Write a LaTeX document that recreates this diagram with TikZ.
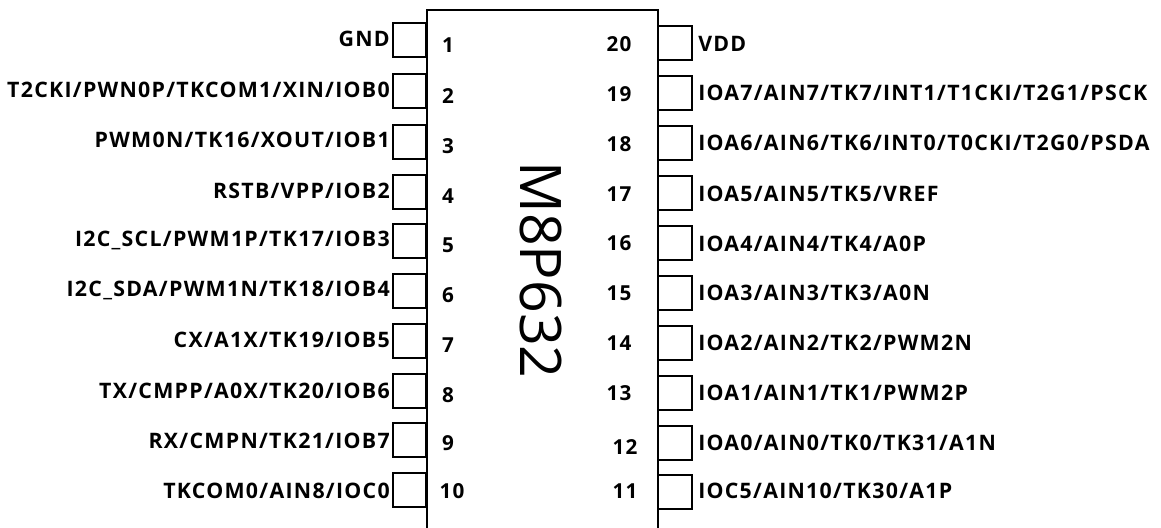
\documentclass[tikz,border=0pt]{standalone}
\usepackage{fontspec}
\setmainfont{Open Sans}
\newfontfamily\pinfont[LetterSpace=6]{Open Sans}

\tikzset{
  pinpad/.style={draw, line width=1.4pt, minimum width=25pt, minimum height=25pt, inner sep=0pt},
  pinname/.style={font=\pinfont\bfseries\fontsize{16}{18}\selectfont, inner sep=0pt},
  pinnum/.style={font=\pinfont\bfseries\fontsize{15.5}{18}\selectfont, inner sep=0pt},
}

\begin{document}
\begin{tikzpicture}[x=0.75pt, y=-0.75pt]
\useasboundingbox (0,0) rectangle (1161,528);
% Chip
\coordinate (chipbl) at (427,528);
\coordinate (chiptl) at (427,10);
\coordinate (chiptr) at (658,10);
\coordinate (chipbr) at (658,528);
\draw[line width=1.4pt] (chipbl) -- (chiptl) -- (chiptr) -- (chipbr);
\draw (541,270) node[rotate=-90, font=\fontsize{43}{45}\selectfont, inner sep=0pt] (chipname) {M8P632};
% Left pads
\draw (409.5,40) node[pinpad] (pad1) {};
\draw (409.5,91) node[pinpad] (pad2) {};
\draw (409.5,142) node[pinpad] (pad3) {};
\draw (409.5,192) node[pinpad] (pad4) {};
\draw (409.5,241) node[pinpad] (pad5) {};
\draw (409.5,291) node[pinpad] (pad6) {};
\draw (409.5,341) node[pinpad] (pad7) {};
\draw (409.5,391) node[pinpad] (pad8) {};
\draw (409.5,440) node[pinpad] (pad9) {};
\draw (409.5,490) node[pinpad] (pad10) {};
% Right pads
\draw (675,43) node[pinpad] (pad20) {};
\draw (675,93) node[pinpad] (pad19) {};
\draw (675,143) node[pinpad] (pad18) {};
\draw (675,193) node[pinpad] (pad17) {};
\draw (675,243) node[pinpad] (pad16) {};
\draw (675,293) node[pinpad] (pad15) {};
\draw (675,343) node[pinpad] (pad14) {};
\draw (675,393) node[pinpad] (pad13) {};
\draw (675,443) node[pinpad] (pad12) {};
\draw (675,492) node[pinpad] (pad11) {};
% Left numbers
\draw (448,45) node[pinnum] (num1) {1};
\draw (448,96) node[pinnum] (num2) {2};
\draw (448,146) node[pinnum] (num3) {3};
\draw (448,196) node[pinnum] (num4) {4};
\draw (448,245) node[pinnum] (num5) {5};
\draw (448,295) node[pinnum] (num6) {6};
\draw (448,345) node[pinnum] (num7) {7};
\draw (448,395) node[pinnum] (num8) {8};
\draw (448,443) node[pinnum] (num9) {9};
\draw (452,491) node[pinnum] (num10) {10};
% Right numbers
\draw (619,44) node[pinnum] (num20) {20};
\draw (619,94) node[pinnum] (num19) {19};
\draw (619,144) node[pinnum] (num18) {18};
\draw (619,194) node[pinnum] (num17) {17};
\draw (619,243) node[pinnum] (num16) {16};
\draw (619,293) node[pinnum] (num15) {15};
\draw (619,343) node[pinnum] (num14) {14};
\draw (619,393) node[pinnum] (num13) {13};
\draw (625,447) node[pinnum] (num12) {12};
\draw (625,491) node[pinnum] (num11) {11};
% Left names
\draw (390,39) node[pinname, anchor=east] (name1) {GND};
\draw (390,90) node[pinname, anchor=east] (name2) {T2CKI/PWN0P/TKCOM1/XIN/IOB0};
\draw (390,140) node[pinname, anchor=east] (name3) {PWM0N/TK16/XOUT/IOB1};
\draw (390,191) node[pinname, anchor=east] (name4) {RSTB/VPP/IOB2};
\draw (390,240) node[pinname, anchor=east] (name5) {I2C\_SCL/PWM1P/TK17/IOB3};
\draw (390,290) node[pinname, anchor=east] (name6) {I2C\_SDA/PWM1N/TK18/IOB4};
\draw (390,340) node[pinname, anchor=east] (name7) {CX/A1X/TK19/IOB5};
\draw (390,391) node[pinname, anchor=east] (name8) {TX/CMPP/A0X/TK20/IOB6};
\draw (390,441) node[pinname, anchor=east] (name9) {RX/CMPN/TK21/IOB7};
\draw (390,491) node[pinname, anchor=east] (name10) {TKCOM0/AIN8/IOC0};
% Right names
\draw (698,44) node[pinname, anchor=west] (name20) {VDD};
\draw (698,93) node[pinname, anchor=west] (name19) {IOA7/AIN7/TK7/INT1/T1CKI/T2G1/PSCK};
\draw (698,143) node[pinname, anchor=west] (name18) {IOA6/AIN6/TK6/INT0/T0CKI/T2G0/PSDA};
\draw (698,194) node[pinname, anchor=west] (name17) {IOA5/AIN5/TK5/VREF};
\draw (698,244) node[pinname, anchor=west] (name16) {IOA4/AIN4/TK4/A0P};
\draw (698,293) node[pinname, anchor=west] (name15) {IOA3/AIN3/TK3/A0N};
\draw (698,343) node[pinname, anchor=west] (name14) {IOA2/AIN2/TK2/PWM2N};
\draw (698,393) node[pinname, anchor=west] (name13) {IOA1/AIN1/TK1/PWM2P};
\draw (698,443) node[pinname, anchor=west] (name12) {IOA0/AIN0/TK0/TK31/A1N};
\draw (698,491) node[pinname, anchor=west] (name11) {IOC5/AIN10/TK30/A1P};
\end{tikzpicture}
\end{document}
